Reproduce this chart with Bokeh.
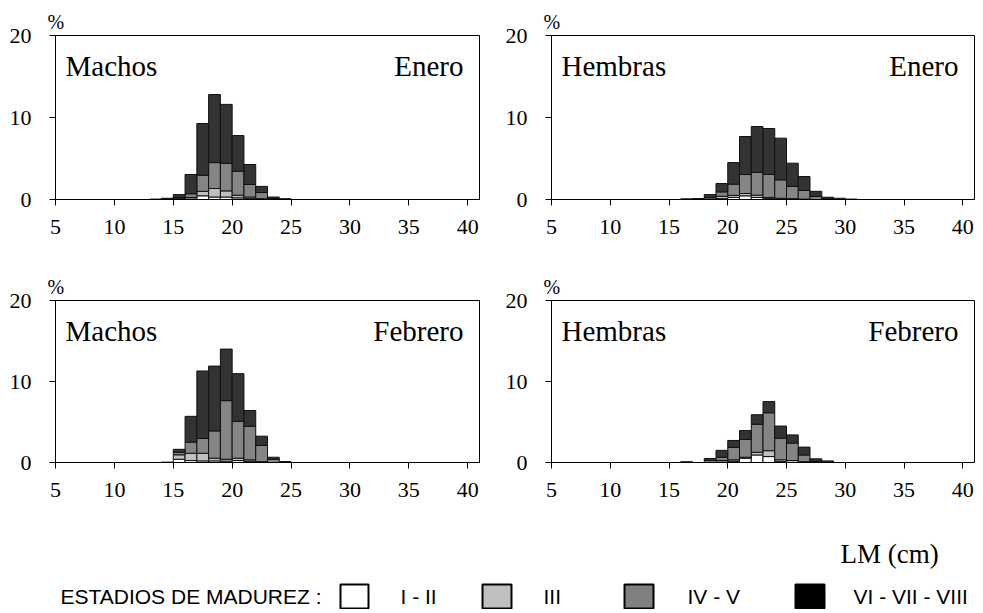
from bokeh.plotting import figure
from bokeh.models import Range1d, Label, FixedTicker, ColumnDataSource
from bokeh.layouts import column, row
from bokeh.embed import file_html
from bokeh.resources import INLINE
from bokeh.core.properties import value

# ---------------- data ----------------
STAGES = ["I - II", "III", "IV - V", "VI - VII - VIII"]
STAGE_COLORS = ["#ffffff", "#c0c0c0", "#858585", "#333333"]
LEGEND_COLORS = ["#ffffff", "#c0c0c0", "#808080", "#000000"]
X_TICKS = [5, 10, 15, 20, 25, 30, 35, 40]
Y_TICKS = [0, 10, 20]
LEGEND_TITLE = "ESTADIOS DE MADUREZ :"
X_LABEL = "LM (cm)"
Y_UNIT = "%"

# Machos - Enero (bin left edge, cm) ; % per maturity stage
me_bins = [13, 14, 15, 16, 17, 18, 19, 20, 21, 22, 23, 24]
me_i_ii = [0, 0, 0.05, 0.05, 0.45, 0.30, 0.30, 0.20, 0.10, 0, 0, 0]
me_iii = [0, 0, 0.05, 0.20, 0.55, 1.04, 0.75, 0.32, 0.20, 0.10, 0, 0]
me_iv_v = [0, 0.05, 0.15, 0.45, 1.96, 3.16, 3.35, 2.93, 1.53, 0.75, 0.10, 0]
me_vi_viii = [0.05, 0.10, 0.35, 2.35, 6.31, 8.30, 7.20, 4.35, 2.44, 0.75, 0.20, 0.10]

# Hembras - Enero
he_bins = [16, 17, 18, 19, 20, 21, 22, 23, 24, 25, 26, 27, 28, 29, 30]
he_i_ii = [0, 0, 0, 0.10, 0.25, 0.45, 0.25, 0.10, 0, 0, 0, 0, 0, 0, 0]
he_iii = [0, 0, 0.05, 0.30, 0.25, 0.28, 0.28, 0.15, 0.15, 0.10, 0.05, 0, 0, 0, 0]
he_iv_v = [0, 0.04, 0.20, 0.53, 1.37, 2.32, 2.77, 2.80, 2.25, 1.50, 1.05, 0.37, 0.10, 0, 0]
he_vi_viii = [0.08, 0.08, 0.35, 1.02, 2.63, 4.63, 5.60, 5.61, 5.08, 2.83, 1.70, 0.63, 0.18, 0.15, 0.05]

# Machos - Febrero
mf_bins = [14, 15, 16, 17, 18, 19, 20, 21, 22, 23, 24]
mf_i_ii = [0, 0.40, 0.24, 0.20, 0.20, 0.16, 0.24, 0.15, 0, 0, 0]
mf_iii = [0, 0.55, 0.90, 0.94, 0.33, 0.24, 0.29, 0.18, 0.10, 0, 0]
mf_iv_v = [0, 0.30, 1.38, 1.83, 3.37, 7.24, 4.55, 4.14, 2.00, 0.40, 0]
mf_vi_viii = [0.05, 0.38, 3.18, 8.33, 8.00, 6.36, 5.89, 1.95, 1.15, 0.25, 0.12]

# Hembras - Febrero
hf_bins = [16, 17, 18, 19, 20, 21, 22, 23, 24, 25, 26, 27, 28]
hf_i_ii = [0, 0, 0, 0.05, 0.15, 0.53, 0.93, 0.73, 0.10, 0, 0, 0, 0]
hf_iii = [0, 0, 0, 0.20, 0.18, 0.12, 0.33, 0.73, 0.23, 0.25, 0.10, 0, 0]
hf_iv_v = [0, 0, 0.25, 0.40, 1.54, 2.20, 3.46, 4.68, 2.67, 2.15, 0.83, 0.15, 0]
hf_vi_viii = [0.10, 0, 0.25, 0.85, 0.85, 1.09, 1.18, 1.38, 1.50, 1.01, 0.97, 0.30, 0.20]

SERIF = "Liberation Serif"
SANS = "Liberation Sans"


def panel(bins, s1, s2, s3, s4, sex, month, width, height, mbl, mbr, mbt, mbb):
    p = figure(width=width, height=height, x_range=Range1d(5, 41), y_range=Range1d(0, 20),
               output_backend="svg", toolbar_location=None,
               min_border_left=mbl, min_border_right=mbr,
               min_border_top=mbt, min_border_bottom=mbb)
    src = ColumnDataSource(dict(x=[b + 0.5 for b in bins], s1=s1, s2=s2, s3=s3, s4=s4))
    p.vbar_stack(["s1", "s2", "s3", "s4"], x="x", width=1, source=src,
                 fill_color=STAGE_COLORS, line_color="#111111", line_width=1)
    p.xaxis.ticker = FixedTicker(ticks=X_TICKS)
    p.yaxis.ticker = FixedTicker(ticks=Y_TICKS)
    for ax in (p.xaxis, p.yaxis):
        ax.major_label_text_font = SERIF
        ax.major_label_text_font_size = "22px"
        ax.major_label_text_color = "black"
        ax.axis_line_color = "black"
        ax.major_tick_line_color = "black"
        ax.minor_tick_line_color = None
        ax.major_tick_in = 0
        ax.major_tick_out = 6
    p.xaxis.major_label_standoff = 14
    p.yaxis.major_label_standoff = 18
    p.xgrid.grid_line_color = None
    p.ygrid.grid_line_color = None
    p.outline_line_color = "black"
    p.outline_line_width = 1
    # "%" unit above the y axis, as the figure title
    p.title.text = Y_UNIT
    p.title.align = "left"
    p.title.offset = -8
    p.title.standoff = 6
    p.title.text_font = SERIF
    p.title.text_font_size = "20px"
    p.title.text_font_style = "normal"
    p.title.text_color = "black"
    p.add_layout(Label(x=5, y=20, x_offset=10, y_offset=-30, text=sex, text_font=SERIF,
                       text_color="black", text_font_size="29px", text_align="left",
                       text_baseline="alphabetic"))
    p.add_layout(Label(x=41, y=20, x_offset=-16, y_offset=-30, text=month, text_font=SERIF,
                       text_color="black", text_font_size="29px", text_align="right",
                       text_baseline="alphabetic"))
    return p


f1 = panel(me_bins, me_i_ii, me_iii, me_iv_v, me_vi_viii, "Machos", "Enero", 502, 270, 55, 23, 35, 71)
f2 = panel(he_bins, he_i_ii, he_iii, he_iv_v, he_vi_viii, "Hembras", "Enero", 473, 270, 47, 1, 35, 71)
f3 = panel(mf_bins, mf_i_ii, mf_iii, mf_iv_v, mf_vi_viii, "Machos", "Febrero", 502, 240, 55, 23, 28, 48)
f4 = panel(hf_bins, hf_i_ii, hf_iii, hf_iv_v, hf_vi_viii, "Hembras", "Febrero", 473, 240, 47, 1, 28, 48)

# legend / x-label strip (coordinates in pixels of this strip)
LG_H = 99
lg = figure(width=975, height=LG_H, x_range=Range1d(0, 975), y_range=Range1d(LG_H, 0),
            output_backend="svg", toolbar_location=None, min_border=0,
            x_axis_location=None, y_axis_location=None)
lg.xgrid.grid_line_color = None
lg.ygrid.grid_line_color = None
lg.outline_line_color = None
lg.text(x=[840], y=[43], text=[X_LABEL], text_font=value(SERIF), text_font_size=value("27px"),
        text_color="black", text_align="left", text_baseline="alphabetic")
lg.text(x=[60], y=[86], text=[LEGEND_TITLE], text_font=value(SANS), text_font_size=value("21px"),
        text_color="black", text_align="left", text_baseline="alphabetic")
lg.quad(left=[340, 482, 624, 795], right=[368, 511, 653, 824], top=[74] * 4, bottom=[98] * 4,
        fill_color=LEGEND_COLORS, line_color="black", line_width=2)
lg.text(x=[400, 543, 687, 853], y=[86] * 4, text=STAGES, text_font=value(SANS),
        text_font_size=value("21px"), text_color="black", text_align="left",
        text_baseline="alphabetic")

layout = column(row(f1, f2), row(f3, f4), lg)
open("out.html", "w").write(file_html(layout, INLINE))
